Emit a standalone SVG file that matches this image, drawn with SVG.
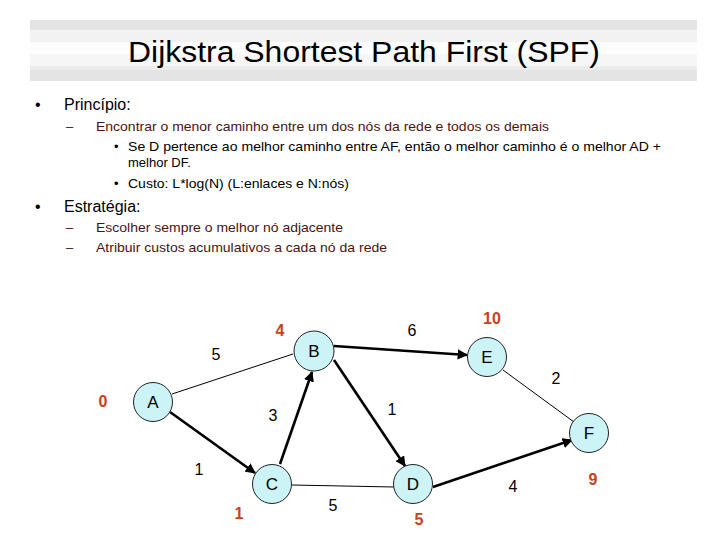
<svg xmlns="http://www.w3.org/2000/svg" width="720" height="540" viewBox="0 0 720 540">
<defs>
<linearGradient id="band" x1="0" y1="0" x2="0" y2="1">
<stop offset="0" stop-color="#e4e4e4"/>
<stop offset="0.17" stop-color="#e4e4e4"/>
<stop offset="0.17" stop-color="#f2f2f2"/>
<stop offset="0.36" stop-color="#f2f2f2"/>
<stop offset="0.36" stop-color="#fdfdfd"/>
<stop offset="0.55" stop-color="#fdfdfd"/>
<stop offset="0.55" stop-color="#f6f6f6"/>
<stop offset="0.76" stop-color="#f6f6f6"/>
<stop offset="0.76" stop-color="#ececec"/>
<stop offset="0.82" stop-color="#ececec"/>
<stop offset="0.82" stop-color="#e4e4e4"/>
<stop offset="1" stop-color="#e4e4e4"/>
</linearGradient>
<marker id="arr" viewBox="0 0 10 10" refX="9" refY="5" markerWidth="4" markerHeight="4" orient="auto" markerUnits="strokeWidth">
<path d="M0,0 L10,5 L0,10 z" fill="#000"/>
</marker>
<style>
.t{font-family:"Liberation Sans",Arial,sans-serif;}
.l1{font-size:16px;fill:#000;}
.l2{font-size:13px;fill:#4a1414;}
.l3{font-size:13px;fill:#000;}
.node circle{fill:#ccf3f5;stroke:#222;stroke-width:1;}
.node text{font-family:"Liberation Sans",Arial,sans-serif;font-size:17px;fill:#000;text-anchor:middle;}
.thin{stroke:#000;stroke-width:1;fill:none;}
.thick{stroke:#000;stroke-width:2.6;fill:none;marker-end:url(#arr);}
.w{font-family:"Liberation Sans",Arial,sans-serif;font-size:16px;fill:#000;text-anchor:middle;}
.c{font-family:"Liberation Sans",Arial,sans-serif;font-size:16px;font-weight:bold;fill:#c8401e;text-anchor:middle;}
</style>
</defs>
<rect width="720" height="540" fill="#fff"/>
<rect x="30" y="20" width="667" height="61" fill="url(#band)"/>
<text class="t" x="128" y="62" font-size="30" textLength="472" lengthAdjust="spacingAndGlyphs">Dijkstra Shortest Path First (SPF)</text>

<g id="text">
<text class="t l1" x="35" y="110">•</text>
<text class="t l1" x="64" y="110">Princípio:</text>
<text class="t l2" x="66" y="131">–</text>
<text class="t l2" x="96" y="131" textLength="453" lengthAdjust="spacingAndGlyphs">Encontrar o menor caminho entre um dos nós da rede e todos os demais</text>
<text class="t l3" x="114" y="151" font-size="10">•</text>
<text class="t l3" x="128" y="151" textLength="533" lengthAdjust="spacingAndGlyphs">Se D pertence ao melhor caminho entre AF, então o melhor caminho é o melhor AD +</text>
<text class="t l3" x="128" y="167">melhor DF.</text>
<text class="t l3" x="114" y="188" font-size="10">•</text>
<text class="t l3" x="128" y="188" textLength="221" lengthAdjust="spacingAndGlyphs">Custo: L*log(N) (L:enlaces e N:nós)</text>
<text class="t l1" x="35" y="212">•</text>
<text class="t l1" x="64" y="212">Estratégia:</text>
<text class="t l2" x="66" y="232">–</text>
<text class="t l2" x="96" y="232" textLength="247" lengthAdjust="spacingAndGlyphs">Escolher sempre o melhor nó adjacente</text>
<text class="t l2" x="66" y="252">–</text>
<text class="t l2" x="96" y="252" textLength="291" lengthAdjust="spacingAndGlyphs">Atribuir custos acumulativos a cada nó da rede</text>
</g>

<g id="connectors">
<line class="thin" x1="172" y1="394" x2="293" y2="354"/>
<line class="thin" x1="292" y1="485" x2="394" y2="487"/>
<line class="thin" x1="503" y1="370" x2="574" y2="422"/>
<line class="thick" x1="170" y1="412" x2="255" y2="473"/>
<line class="thick" x1="280" y1="464" x2="312" y2="372"/>
<line class="thick" x1="334" y1="360" x2="405" y2="466"/>
<line class="thick" x1="334" y1="346" x2="467" y2="355"/>
<line class="thick" x1="433" y1="487" x2="572" y2="440"/>
</g>

<g id="A" class="node"><circle cx="153" cy="402" r="19.5"/><text x="153" y="408">A</text></g>
<g id="B" class="node"><circle cx="314" cy="351" r="20"/><text x="314" y="357">B</text></g>
<g id="C" class="node"><circle cx="272" cy="484" r="19.5"/><text x="272" y="490">C</text></g>
<g id="D" class="node"><circle cx="413" cy="484" r="19.5"/><text x="413" y="490">D</text></g>
<g id="E" class="node"><circle cx="487" cy="357" r="19.5"/><text x="487" y="363">E</text></g>
<g id="F" class="node"><circle cx="589" cy="433" r="19.5"/><text x="589" y="439">F</text></g>

<g id="labels">
<text class="w" x="216" y="360">5</text>
<text class="w" x="273" y="421">3</text>
<text class="w" x="199" y="475">1</text>
<text class="w" x="333" y="511">5</text>
<text class="w" x="392" y="415">1</text>
<text class="w" x="412" y="336">6</text>
<text class="w" x="556" y="384">2</text>
<text class="w" x="513" y="492">4</text>
<text class="c" x="103" y="407">0</text>
<text class="c" x="280" y="336">4</text>
<text class="c" x="239" y="519">1</text>
<text class="c" x="492" y="324">10</text>
<text class="c" x="593" y="485">9</text>
<text class="c" x="419" y="525">5</text>
</g>
</svg>
